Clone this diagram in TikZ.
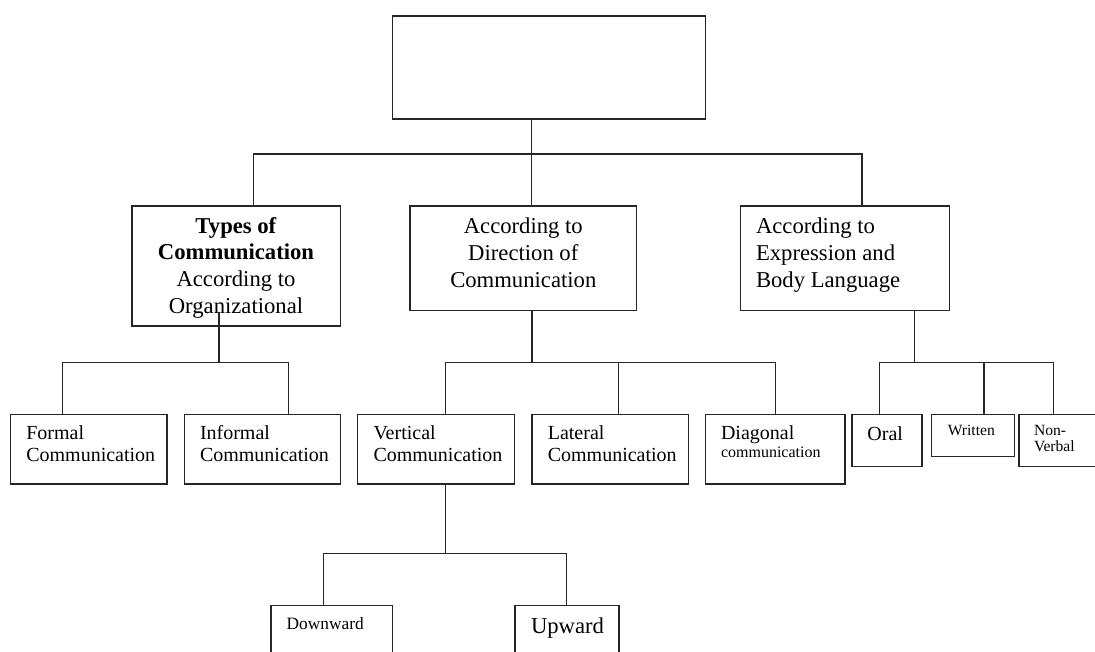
\documentclass[tikz,border=0pt]{standalone}
\usepackage{fontspec}
\setmainfont{Liberation Serif}
\usetikzlibrary{positioning,calc}
\tikzset{
  box/.style={draw=black!85, line width=0.9pt, inner sep=0pt, outer sep=0pt},
  link/.style={draw=black!85, line width=0.9pt},
  txt/.style={inner sep=0pt, outer sep=0pt, anchor=base west, align=left},
}
\newcommand*{\fA}{\fontsize{17}{20}\selectfont}
\newcommand*{\fB}{\fontsize{15}{16.3}\selectfont}
\newcommand*{\fC}{\fontsize{11.7}{11.8}\selectfont}
\newcommand*{\boxat}[5]{%
  \node[box, minimum width={(#4-#2)*0.75pt}, minimum height={(#5-#3)*0.75pt}] (#1) at ({(#2+#4)/2},{(#3+#5)/2}) {};}

\begin{document}
\begin{tikzpicture}[x=0.75pt,y=-0.75pt]
    \useasboundingbox (0,0) rectangle (1095,652);
    \clip (0,0) rectangle (1095,652);
    % boxes
    \boxat{root}{392.8}{16}{705.7}{119}
    \boxat{org}{131.9}{206}{340.2}{326}
    \boxat{dir}{410}{206}{636.3}{310.7}
    \boxat{expr}{740.4}{206}{949.6}{310.7}
    \boxat{formal}{10.2}{414.3}{167}{484}
    \boxat{informal}{184.1}{414.3}{340.6}{484}
    \boxat{vert}{357.8}{414.3}{514.5}{484}
    \boxat{lat}{532}{414.3}{688.3}{484}
    \boxat{diag}{705.7}{414.3}{845}{484}
    \boxat{oral}{851.9}{414.3}{922}{466.7}
    \boxat{written}{931.5}{414.3}{1014.5}{456.7}
    \boxat{non}{1019}{414.3}{1110}{466.7}
    \boxat{down}{271}{605.5}{392.8}{680}
    \boxat{up}{515}{605.5}{619}{680}
    % texts (anchored at the baseline of the last line)
    \node[txt,anchor=base,align=center,font=\fA] (orgT) at (236,313.3) {\textbf{Types of}\\\textbf{Communication}\\According to\\Organizational};
    \node[txt,anchor=base,align=center,font=\fA] (dirT) at (523.3,287) {According to\\Direction of\\Communication};
    \node[txt,font=\fA] (exprT) at (756,287) {According to\\Expression and\\Body Language};
    \node[txt,font=\fB] (formalT) at (26.3,461.7) {Formal\\Communication};
    \node[txt,font=\fB] (informalT) at (200,461.7) {Informal\\Communication};
    \node[txt,font=\fB] (vertT) at (373.5,461.7) {Vertical\\Communication};
    \node[txt,font=\fB] (latT) at (547.8,461.7) {Lateral\\Communication};
    \node[txt,font=\fB] (diagT) at (721,457) {Diagonal\\[-3.5pt]{\fontsize{12}{12.75}\selectfont communication}};
    \node[txt,font=\fB] (oralT) at (867.4,440) {Oral};
    \node[txt,font=\fC] (writtenT) at (947.8,435) {Written};
    \node[txt,font=\fC] (nonT) at (1034,451.7) {Non-\\Verbal};
    \node[txt,font=\fontsize{13}{15}\selectfont] (downT) at (286.7,629.3) {Downward};
    \node[txt,font=\fA] (upT) at (531,633.3) {Upward};
    % first level
    \coordinate (topJ) at (531.7,154);
    \coordinate (orgJ) at (253.6,154);
    \coordinate (exprJ) at (862,154);
    \draw[link] (root.south -| topJ) -- (dir.north -| topJ);
    \draw[link] (org.north -| orgJ) -- (orgJ) -- (exprJ) -- (expr.north -| exprJ);
    % organizational
    \coordinate (orgS) at (218.9,311.7);
    \coordinate (formalJ) at (62.4,362.3);
    \coordinate (informalJ) at (288.7,362.3);
    \draw[link] (orgS) -- (orgS |- formalJ);
    \draw[link] (formal.north -| formalJ) -- (formalJ) -- (informalJ) -- (informal.north -| informalJ);
    % direction
    \coordinate (dirS) at (532,362.3);
    \coordinate (vertJ) at (445.1,362.3);
    \coordinate (latJ) at (618.6,362.3);
    \coordinate (diagJ) at (775.4,362.3);
    \draw[link] (dir.south -| dirS) -- (dirS);
    \draw[link] (vert.north -| vertJ) -- (vertJ) -- (diagJ) -- (diag.north -| diagJ);
    \draw[link] (latJ) -- (lat.north -| latJ);
    % vertical
    \coordinate (downJ) at (323.4,553.3);
    \coordinate (upJ) at (566.7,553.3);
    \draw[link] (vert.south -| vertJ) -- (vertJ |- downJ);
    \draw[link] (down.north -| downJ) -- (downJ) -- (upJ) -- (up.north -| upJ);
    % expression
    \coordinate (exprS) at (914.5,362.3);
    \coordinate (oralJ) at (879.8,362.3);
    \coordinate (writtenJ) at (984,362.3);
    \coordinate (nonJ) at (1053.6,362.3);
    \draw[link] (expr.south -| exprS) -- (exprS);
    \draw[link] (oral.north -| oralJ) -- (oralJ) -- (nonJ) -- (non.north -| nonJ);
    \draw[link] (writtenJ) -- (written.north -| writtenJ);
\end{tikzpicture}
\end{document}
